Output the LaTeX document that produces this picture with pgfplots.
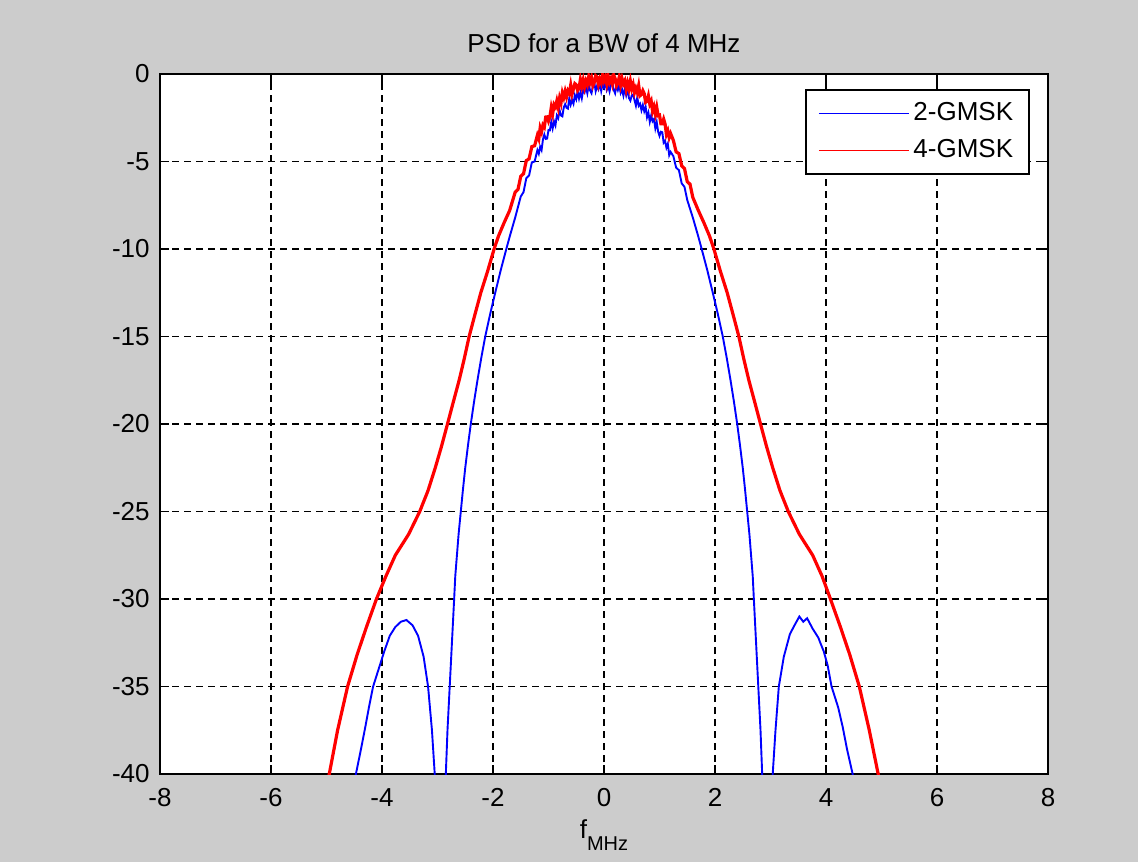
\documentclass[border=0pt]{standalone}
\usepackage{pgfplots}
\pgfplotsset{compat=1.18}
\usepackage{fontspec}
\setmainfont{Liberation Sans}
\definecolor{figbg}{gray}{0.8}
\begin{document}
\fontsize{13}{15.6}\selectfont
\begin{tikzpicture}
\fill[figbg] (-80pt,-44pt) rectangle (489pt,387pt);
\begin{axis}[
  at={(0,0)}, anchor=south west,
  scale only axis, width=444pt, height=350pt,
  xmin=-8, xmax=8, ymin=-40, ymax=0,
  xtick={-8,-6,...,8}, ytick={-40,-35,...,0},
  axis background/.style={fill=white},
  grid=major,
  major grid style={black, dash pattern=on 3.5pt off 2.5pt, line width=0.75pt},
  tick align=inside, major tick length=4.5pt,
  axis line style={line width=0.8pt},
  every tick/.style={black, line width=0.8pt},
  /pgf/number format/assume math mode=true,
  tick label style={font=\fontsize{13}{15.6}\selectfont},
  xticklabel style={anchor=base, yshift=-16pt},
  yticklabel style={anchor=east, inner sep=0pt, xshift=-5pt},
  title={PSD for a BW of 4 MHz},
  title style={at={(axis description cs:0.5,1)}, anchor=base, yshift=4.5pt, font=\fontsize{13}{15.6}\selectfont},
  xlabel={f\raisebox{-6pt}{\fontsize{10}{12}\selectfont MHz}},
  xlabel style={at={(axis description cs:0.5,0)}, anchor=base, yshift=-32pt, font=\fontsize{13}{15.6}\selectfont},
  legend style={at={(axis description cs:0.9797,0.9786)}, anchor=north east,
    draw=black, line width=0.8pt, fill=white, font=\fontsize{13}{15.6}\selectfont,
    inner xsep=6pt, inner ysep=4.3pt, row sep=3.6pt,
    nodes={inner sep=2pt, text depth=0.15em}},
  legend cell align=left,
  legend image code/.code={\path (0pt,0pt) -- (45pt,0pt); \draw[#1] (1.5pt,0pt) -- (43.5pt,0pt);},
]
\addlegendimage{blue, line width=0.6pt}
\addlegendentry{2-GMSK}
\addlegendimage{red, line width=0.6pt}
\addlegendentry{4-GMSK}
\addplot[blue, line width=0.95pt, forget plot] coordinates {
(-4.60,-42.5) (-4.47,-40.0) (-4.38,-38.6) (-4.30,-37.3) (-4.23,-36.1) (-4.16,-35.0)
(-4.10,-34.4) (-4.04,-33.8) (-3.96,-33.0) (-3.86,-32.1) (-3.76,-31.6) (-3.66,-31.3)
(-3.56,-31.2) (-3.45,-31.5) (-3.35,-32.1) (-3.25,-33.3) (-3.17,-35.0) (-3.10,-37.5)
(-3.05,-40.0) (-2.95,-50.0) (-2.85,-40.0) (-2.82,-37.5) (-2.78,-35.0) (-2.74,-32.5)
(-2.70,-30.0) (-2.68,-28.7) (-2.65,-27.5) (-2.62,-26.3) (-2.58,-25.0) (-2.54,-23.7)
(-2.50,-22.5) (-2.45,-21.2) (-2.40,-20.0) (-2.34,-18.7) (-2.28,-17.5) (-2.21,-16.2)
(-2.14,-15.0) (-2.05,-13.7) (-1.96,-12.5) (-1.86,-11.2) (-1.76,-10.0) (-1.70,-9.3)
(-1.60,-8.2) (-1.50,-7.0) (-1.45,-6.75) (-1.40,-5.95) (-1.35,-5.8) (-1.30,-5.05) (-1.25,-5.0)
(-1.200,-4.35) (-1.175,-4.56) (-1.150,-4.16) (-1.125,-4.35) (-1.100,-3.74) (-1.075,-3.46)
(-1.050,-3.71) (-1.025,-3.69) (-1.000,-3.20) (-0.975,-3.22) (-0.950,-2.73) (-0.925,-3.11)
(-0.900,-2.70) (-0.875,-2.94) (-0.850,-2.37) (-0.825,-2.53) (-0.800,-2.08) (-0.775,-2.37)
(-0.750,-2.42) (-0.725,-1.91) (-0.700,-1.73) (-0.675,-1.93) (-0.650,-1.98) (-0.625,-1.38)
(-0.600,-1.75) (-0.575,-1.48) (-0.550,-1.70) (-0.525,-1.21) (-0.500,-1.44) (-0.475,-0.98)
(-0.450,-1.40) (-0.425,-1.05) (-0.400,-1.39) (-0.375,-0.90) (-0.350,-1.05) (-0.325,-0.74)
(-0.300,-1.10) (-0.275,-0.63) (-0.250,-0.95) (-0.225,-1.10) (-0.200,-0.68) (-0.175,-0.48)
(-0.150,-0.98) (-0.125,-0.68) (-0.100,-0.87) (-0.075,-0.51) (-0.050,-0.97) (-0.025,-0.56)
(0.000,-0.78) (0.025,-0.45) (0.050,-0.91) (0.075,-0.69) (0.100,-1.00) (0.125,-0.58)
(0.150,-0.52) (0.175,-0.90) (0.200,-1.10) (0.225,-0.64) (0.250,-0.91) (0.275,-0.61)
(0.300,-1.08) (0.325,-0.88) (0.350,-1.24) (0.375,-0.85) (0.400,-1.21) (0.425,-0.85)
(0.450,-1.38) (0.475,-1.52) (0.500,-1.22) (0.525,-1.17) (0.550,-1.50) (0.575,-1.81)
(0.600,-1.34) (0.625,-1.82) (0.650,-1.70) (0.675,-2.07) (0.700,-1.77) (0.725,-2.13)
(0.750,-1.88) (0.775,-2.47) (0.800,-2.21) (0.825,-2.73) (0.850,-2.37) (0.875,-2.70)
(0.900,-2.58) (0.925,-3.11) (0.950,-2.75) (0.975,-3.29) (1.000,-3.54) (1.025,-3.30)
(1.050,-3.33) (1.075,-3.92) (1.100,-3.81) (1.125,-4.21) (1.150,-3.99) (1.175,-4.64)
(1.200,-4.45)
(1.25,-4.7) (1.30,-5.35) (1.35,-5.5) (1.40,-6.25) (1.45,-6.45) (1.50,-7.2) (1.60,-8.2) (1.70,-9.3)
(1.76,-10.0) (1.86,-11.2) (1.96,-12.5) (2.05,-13.7) (2.14,-15.0) (2.21,-16.2)
(2.28,-17.5) (2.34,-18.7) (2.40,-20.0) (2.45,-21.2) (2.50,-22.5) (2.54,-23.7)
(2.58,-25.0) (2.62,-26.3) (2.65,-27.5) (2.68,-28.7) (2.70,-30.0) (2.74,-32.5)
(2.78,-35.0) (2.82,-37.5) (2.85,-40.0) (2.95,-50.0) (3.04,-40.0) (3.09,-37.5)
(3.15,-35.0) (3.24,-33.3) (3.35,-32.0) (3.45,-31.4) (3.52,-31.0) (3.59,-31.3)
(3.66,-31.1) (3.76,-31.7) (3.86,-32.2) (3.96,-33.0) (4.03,-33.8) (4.10,-35.0)
(4.22,-36.2) (4.30,-37.3) (4.38,-38.6) (4.48,-40.0) (4.60,-42.5)
};
\addplot[red, line width=1.6pt, forget plot] coordinates {
(-5.05,-42) (-4.95,-40) (-4.80,-37.5) (-4.62,-35) (-4.45,-33.2) (-4.28,-31.6)
(-4.10,-30) (-3.93,-28.7) (-3.76,-27.5) (-3.52,-26.3) (-3.32,-25) (-3.17,-23.8)
(-3.04,-22.5) (-2.93,-21.3) (-2.82,-20) (-2.72,-18.8) (-2.61,-17.5) (-2.52,-16.3)
(-2.43,-15) (-2.33,-13.8) (-2.22,-12.5) (-2.10,-11.3) (-1.98,-10) (-1.90,-9.25)
(-1.80,-8.5) (-1.70,-7.8) (-1.60,-6.75) (-1.55,-6.6) (-1.50,-5.85) (-1.45,-5.7)
(-1.40,-4.95) (-1.35,-4.85) (-1.30,-4.15) (-1.25,-4.1)
(-1.200,-3.50) (-1.175,-3.71) (-1.150,-3.08) (-1.125,-3.31) (-1.100,-2.92) (-1.075,-3.04)
(-1.050,-2.46) (-1.025,-2.45) (-1.000,-2.69) (-0.975,-2.45) (-0.950,-1.92) (-0.925,-2.28)
(-0.900,-1.75) (-0.875,-1.88) (-0.850,-1.54) (-0.825,-1.91) (-0.800,-1.38) (-0.775,-1.66)
(-0.750,-1.08) (-0.725,-1.34) (-0.700,-0.99) (-0.675,-1.31) (-0.650,-0.96) (-0.625,-1.10)
(-0.600,-0.64) (-0.575,-1.14) (-0.550,-0.86) (-0.525,-0.55) (-0.500,-0.62) (-0.475,-0.94)
(-0.450,-0.82) (-0.425,-0.31) (-0.400,-0.69) (-0.375,-0.34) (-0.350,-0.75) (-0.325,-0.40)
(-0.300,-0.61) (-0.275,-0.15) (-0.250,-0.47) (-0.225,-0.21) (-0.200,-0.67) (-0.175,-0.48)
(-0.150,-0.10) (-0.125,-0.17) (-0.100,-0.60) (-0.075,-0.30) (-0.050,-0.51) (-0.025,-0.05)
(0.000,-0.38) (0.025,-0.16) (0.050,-0.57) (0.075,-0.12) (0.100,-0.47) (0.125,-0.27)
(0.150,-0.56) (0.175,-0.06) (0.200,-0.25) (0.225,-0.67) (0.250,-0.51) (0.275,-0.17)
(0.300,-0.63) (0.325,-0.26) (0.350,-0.56) (0.375,-0.39) (0.400,-0.87) (0.425,-0.51)
(0.450,-0.84) (0.475,-0.40) (0.500,-0.84) (0.525,-0.59) (0.550,-1.06) (0.575,-0.81)
(0.600,-1.05) (0.625,-0.66) (0.650,-1.24) (0.675,-1.17) (0.700,-0.95) (0.725,-1.12)
(0.750,-1.62) (0.775,-1.56) (0.800,-1.25) (0.825,-1.71) (0.850,-1.54) (0.875,-2.12)
(0.900,-1.87) (0.925,-2.28) (0.950,-1.90) (0.975,-2.38) (1.000,-2.35) (1.025,-2.84)
(1.050,-2.84) (1.075,-2.58) (1.100,-2.85) (1.125,-3.45) (1.150,-3.25) (1.175,-3.63)
(1.200,-3.40)
(1.25,-3.8) (1.30,-4.45) (1.35,-4.55) (1.40,-5.25) (1.45,-5.4) (1.50,-6.15)
(1.55,-6.3) (1.60,-7.05) (1.70,-7.8) (1.80,-8.5) (1.90,-9.25) (1.98,-10)
(2.10,-11.3) (2.22,-12.5) (2.33,-13.8) (2.43,-15) (2.52,-16.3) (2.61,-17.5)
(2.72,-18.8) (2.82,-20) (2.93,-21.3) (3.04,-22.5) (3.17,-23.8) (3.32,-25)
(3.52,-26.3) (3.76,-27.5) (3.93,-28.7) (4.08,-30) (4.26,-31.6) (4.43,-33.2)
(4.60,-35) (4.78,-37.5) (4.94,-40) (5.04,-42)
};
\end{axis}
\end{tikzpicture}
\end{document}
